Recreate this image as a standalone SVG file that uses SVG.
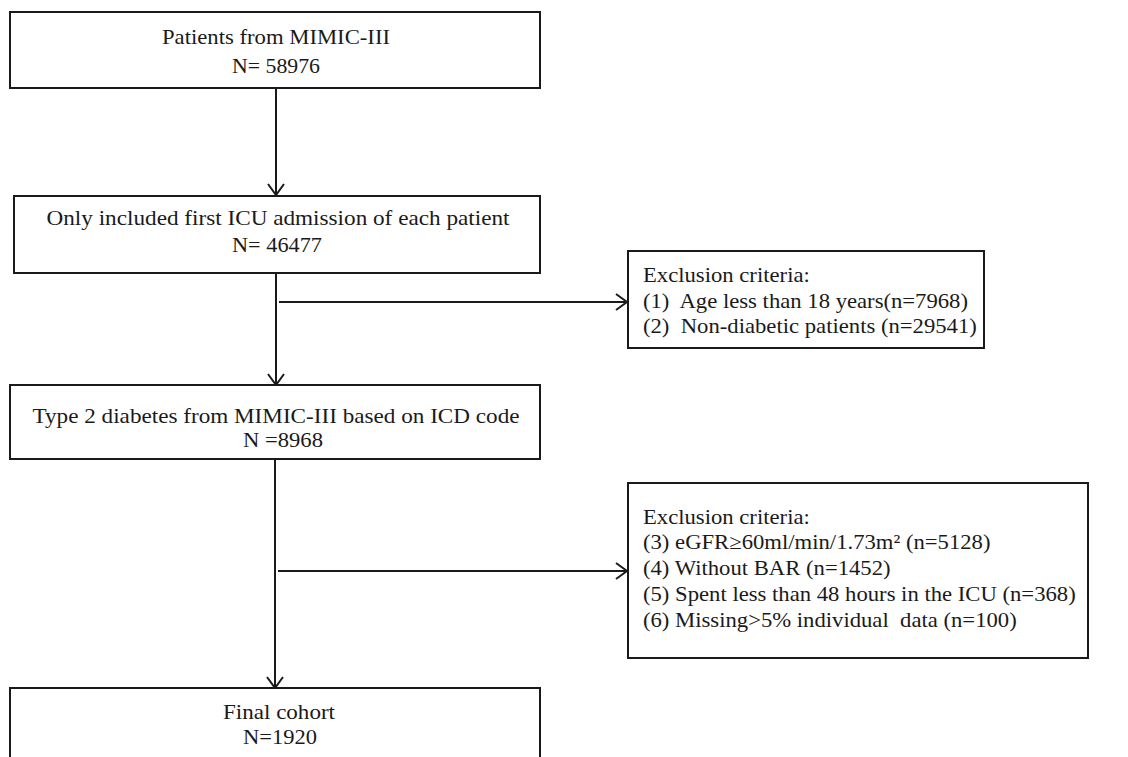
<svg xmlns="http://www.w3.org/2000/svg" width="1128" height="757" viewBox="0 0 1128 757">
<style>
.box{fill:#fff;stroke:#1a1a1a;stroke-width:2}
.t{font-family:"Liberation Serif","Times New Roman",serif;font-size:21px;fill:#1a1a1a}
.e{font-family:"Liberation Serif","Times New Roman",serif;font-size:21px;fill:#1a1a1a}
.c{text-anchor:middle}
.ln{stroke:#1a1a1a;stroke-width:2;fill:none}
</style>
<defs>
<marker id="arr" markerWidth="14" markerHeight="18" refX="12" refY="9" orient="auto" markerUnits="userSpaceOnUse">
<path d="M1,1 L12,9 L1,17" fill="none" stroke="#1a1a1a" stroke-width="2"/>
</marker>
</defs>
<rect width="1128" height="757" fill="#fff"/>
<g id="connectors">
<line class="ln" x1="276" y1="88" x2="276" y2="195" marker-end="url(#arr)"/>
<line class="ln" x1="276" y1="273" x2="276" y2="385" marker-end="url(#arr)"/>
<line class="ln" x1="279" y1="302" x2="627" y2="302" marker-end="url(#arr)"/>
<line class="ln" x1="275" y1="459" x2="275" y2="688" marker-end="url(#arr)"/>
<line class="ln" x1="278" y1="571" x2="627" y2="571" marker-end="url(#arr)"/>
</g>
<g id="n1">
<rect class="box" x="10" y="12" width="530" height="76"/>
<text class="t c" x="276" y="44" textLength="228" lengthAdjust="spacingAndGlyphs">Patients from MIMIC-III</text>
<text class="t c" x="276" y="73" textLength="88" lengthAdjust="spacingAndGlyphs">N= 58976</text>
</g>
<g id="n2">
<rect class="box" x="14" y="196" width="526" height="77"/>
<text class="t c" x="278" y="225" textLength="463" lengthAdjust="spacingAndGlyphs">Only included first ICU admission of each patient</text>
<text class="t c" x="277" y="252" textLength="90" lengthAdjust="spacingAndGlyphs">N= 46477</text>
</g>
<g id="ex1">
<rect class="box" x="628" y="251" width="356" height="97"/>
<g transform="translate(643,0) scale(1.08,1) translate(-643,0)">
<text class="e" x="643" y="282">Exclusion criteria:</text>
<text class="e" x="643" y="308" xml:space="preserve">(1)  Age less than 18 years(n=7968)</text>
<text class="e" x="643" y="333" xml:space="preserve">(2)  Non-diabetic patients (n=29541)</text>
</g>
</g>
<g id="n3">
<rect class="box" x="10" y="385" width="530" height="74"/>
<text class="t c" x="276" y="423" textLength="487" lengthAdjust="spacingAndGlyphs">Type 2 diabetes from MIMIC-III based on ICD code</text>
<text class="t c" x="283" y="447" textLength="80" lengthAdjust="spacingAndGlyphs">N =8968</text>
</g>
<g id="ex2">
<rect class="box" x="628" y="483" width="460" height="175"/>
<g transform="translate(643,0) scale(1.08,1) translate(-643,0)">
<text class="e" x="643" y="524">Exclusion criteria:</text>
<text class="e" x="643" y="549">(3) eGFR≥60ml/min/1.73m² (n=5128)</text>
<text class="e" x="643" y="575">(4) Without BAR (n=1452)</text>
<text class="e" x="643" y="601">(5) Spent less than 48 hours in the ICU (n=368)</text>
<text class="e" x="643" y="627" xml:space="preserve">(6) Missing&gt;5% individual  data (n=100)</text>
</g>
</g>
<g id="n4">
<rect class="box" x="10" y="688" width="530" height="80"/>
<text class="t c" x="279" y="719" textLength="112" lengthAdjust="spacingAndGlyphs">Final cohort</text>
<text class="t c" x="280" y="744" textLength="74" lengthAdjust="spacingAndGlyphs">N=1920</text>
</g>
</svg>
